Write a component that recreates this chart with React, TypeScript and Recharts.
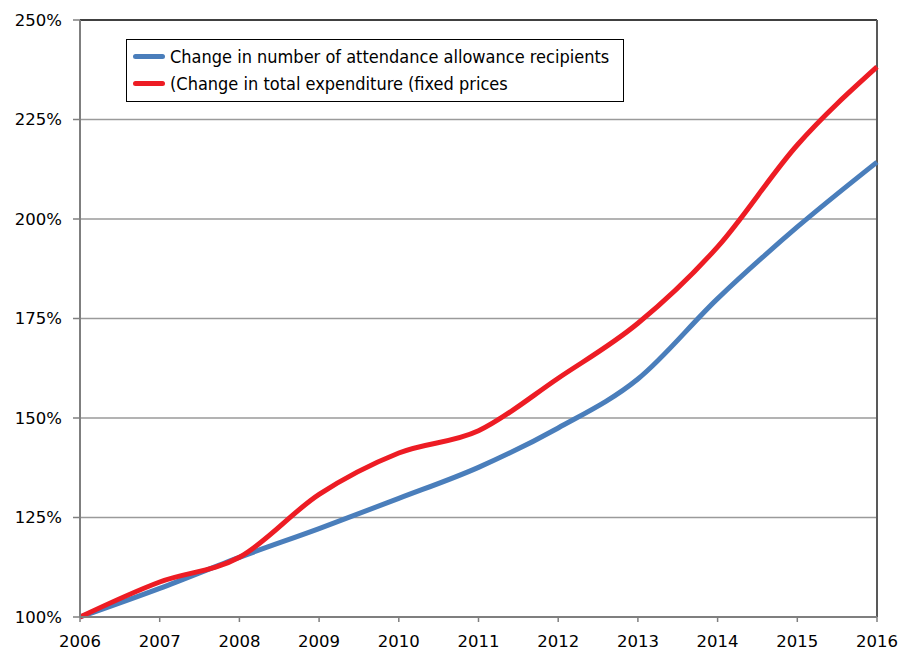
import { LineChart, Line, XAxis, YAxis, CartesianGrid, ReferenceLine } from 'recharts';

const years = ['2006', '2007', '2008', '2009', '2010', '2011', '2012', '2013', '2014', '2015', '2016'];
const recipients = [100, 107.2, 115, 122.2, 129.8, 137.6, 147.5, 159.8, 180, 198, 214.3];
const expenditure = [100, 108.8, 115, 130.8, 141.2, 146.8, 160, 173.8, 193, 218.6, 238.2];
const yTicks = [100, 125, 150, 175, 200, 225, 250];

const recipientsLabel = 'Change in number of attendance allowance recipients';
const expenditureLabel = '(Change in total expenditure (fixed prices';

const data = years.map((year, i) => ({
  year,
  recipients: recipients[i],
  expenditure: expenditure[i],
}));

const BLUE = '#4a7ebb';
const RED = '#ed1c24';

// legend sits inside the plot area, so it is drawn as an overlay
// instead of through <Legend>, which would shrink the plot
const LegendBox = () => {
  const rows = [
    { label: recipientsLabel, color: BLUE },
    { label: expenditureLabel, color: RED },
  ];
  return (
    <div
      style={{
        position: 'absolute',
        left: 126,
        top: 39,
        width: 484,
        height: 58,
        border: '1px solid #000',
        background: '#fff',
        padding: '3px 6px 0 6px',
        fontFamily: '"DejaVu Sans Condensed", "DejaVu Sans", sans-serif',
        fontSize: 18,
        color: '#000',
        lineHeight: '27px',
      }}
    >
      {rows.map((r) => (
        <div key={r.label} style={{ display: 'flex', alignItems: 'center', whiteSpace: 'pre' }}>
          <span
            style={{
              display: 'inline-block',
              width: 32,
              height: 5,
              borderRadius: 3,
              background: r.color,
              marginRight: 5,
            }}
          />
          {r.label}
        </div>
      ))}
    </div>
  );
};

const tickFont = { fill: '#000', fontSize: 16.5, fontFamily: '"DejaVu Sans", sans-serif' };

const App = () => {
  return (
    <div style={{ position: 'relative', width: 899, height: 650, background: '#fff' }}>
      <style>{'body{margin:0}'}</style>
      <LineChart
        width={899}
        height={650}
        data={data}
        margin={{ top: 20, right: 22, left: 0, bottom: 0 }}
      >
        <CartesianGrid vertical={false} stroke="#9a9a9a" strokeWidth={1.5} />
        <XAxis
          dataKey="year"
          height={33}
          axisLine={{ stroke: '#7f7f7f', strokeWidth: 2 }}
          tickLine={{ stroke: '#7f7f7f', strokeWidth: 1.5 }}
          tickSize={5}
          tickMargin={13}
          interval={0}
          tick={tickFont}
        />
        <YAxis
          domain={[100, 250]}
          ticks={yTicks}
          width={80}
          interval={0}
          axisLine={{ stroke: '#7f7f7f', strokeWidth: 2 }}
          tickLine={{ stroke: '#7f7f7f', strokeWidth: 1.5 }}
          tickSize={7}
          tickMargin={11}
          tickFormatter={(v) => `${v}%`}
          tick={tickFont}
        />
        <ReferenceLine y={250} stroke="#404040" strokeWidth={2} />
        <ReferenceLine x="2016" stroke="#595959" strokeWidth={2} />
        <Line
          type="monotone"
          dataKey="recipients"
          name={recipientsLabel}
          stroke={BLUE}
          strokeWidth={5}
          dot={false}
          isAnimationActive={false}
        />
        <Line
          type="monotone"
          dataKey="expenditure"
          name={expenditureLabel}
          stroke={RED}
          strokeWidth={5}
          dot={false}
          isAnimationActive={false}
        />
      </LineChart>
      <LegendBox />
    </div>
  );
};

export default App;
